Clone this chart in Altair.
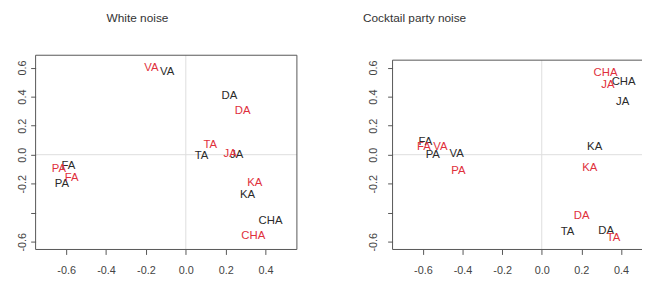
import altair as alt
import pandas as pd

# ---- data ----
titles = ["White noise", "Cocktail party noise"]

# White noise panel
wn_black_lab = ["VA", "DA", "TA", "JA", "KA", "CHA", "FA", "PA"]
wn_black_x = [-0.094, 0.219, 0.079, 0.255, 0.309, 0.425, -0.589, -0.621]
wn_black_y = [0.571, 0.406, -0.007, -0.002, -0.279, -0.460, -0.075, -0.204]
wn_red_lab = ["VA", "DA", "TA", "JA", "KA", "CHA", "PA", "FA"]
wn_red_x = [-0.172, 0.285, 0.123, 0.222, 0.346, 0.338, -0.636, -0.572]
wn_red_y = [0.594, 0.304, 0.066, 0.005, -0.195, -0.562, -0.097, -0.161]

# Cocktail party noise panel
cp_black_lab = ["CHA", "JA", "KA", "TA", "DA", "FA", "PA", "VA"]
cp_black_x = [0.413, 0.408, 0.267, 0.130, 0.325, -0.587, -0.550, -0.429]
cp_black_y = [0.503, 0.360, 0.054, -0.535, -0.528, 0.084, -0.002, 0.005]
cp_red_lab = ["CHA", "JA", "KA", "DA", "TA", "FA", "VA", "PA"]
cp_red_x = [0.322, 0.334, 0.242, 0.201, 0.362, -0.595, -0.512, -0.421]
cp_red_y = [0.560, 0.481, -0.093, -0.426, -0.574, 0.054, 0.054, -0.116]

x_ticks = [-0.6, -0.4, -0.2, 0.0, 0.2, 0.4]
y_ticks = [-0.6, -0.4, -0.2, 0.0, 0.2, 0.4, 0.6]

BLACK = "#2a2a2a"
RED = "#e0303c"
FRAME = "#555555"


def make_df(bl, bx, by, rl, rx, ry):
    rows = []
    for l, x, y in zip(bl, bx, by):
        rows.append({"lab": l, "x": x, "y": y, "grp": "black"})
    for l, x, y in zip(rl, rx, ry):
        rows.append({"lab": l, "x": x, "y": y, "grp": "red"})
    return pd.DataFrame(rows)


label_expr_y = ("abs(datum.value + 0.4) < 0.001 ? '' : "
                "replace(format(datum.value, '.1f'), '\u2212', '-')")
label_expr_x = "replace(format(datum.value, '.1f'), '\u2212', '-')"


def panel(df, title, xdom, ydom, w, h, title_x, title_y, frame_top,
          right_open, ylab_pad):
    xs = alt.Scale(domain=xdom, nice=False, zero=False)
    ys = alt.Scale(domain=ydom, nice=False, zero=False)
    xax = alt.Axis(values=x_ticks, labelExpr=label_expr_x, title=None,
                   grid=False, domain=False, tickColor=FRAME, tickSize=5,
                   labelPadding=10, labelFontSize=11, labelColor="#444444",
                   labelFont="Liberation Sans")
    yax = alt.Axis(values=y_ticks, labelExpr=label_expr_y, title=None,
                   grid=False, domain=False, tickColor=FRAME, tickSize=5,
                   labelAngle=270, labelAlign="center", labelBaseline="bottom",
                   labelPadding=ylab_pad, labelFontSize=11, labelColor="#444444",
                   labelFont="Liberation Sans")
    base = alt.Chart(df)
    zero_v = alt.Chart(pd.DataFrame({"v": [0.0]})).mark_rule(
        color="#dddddd", strokeWidth=1).encode(
        x=alt.X("v:Q", scale=xs, axis=xax), y=alt.value(frame_top), y2=alt.value(h))
    zero_h = alt.Chart(pd.DataFrame({"v": [0.0]})).mark_rule(
        color="#dddddd", strokeWidth=1).encode(y=alt.Y("v:Q", scale=ys, axis=yax))
    txt = base.mark_text(font="Liberation Sans", fontSize=11.5).encode(
        x=alt.X("x:Q", scale=xs, axis=xax),
        y=alt.Y("y:Q", scale=ys, axis=yax),
        text="lab:N",
        color=alt.Color("grp:N", scale=alt.Scale(domain=["black", "red"],
                                                   range=[BLACK, RED]),
                        legend=None),
    )
    ttl = alt.Chart(pd.DataFrame({"t": [title]})).mark_text(
        font="Liberation Sans", fontSize=12, color="#333333",
        align="left", baseline="bottom").encode(
        text="t:N", x=alt.value(title_x), y=alt.value(title_y))
    # frame lines
    fr = alt.Chart(pd.DataFrame({"k": [0]}))
    top = fr.mark_rule(color=FRAME, strokeWidth=1).encode(
        x=alt.value(0), x2=alt.value(w), y=alt.value(frame_top))
    bot = fr.mark_rule(color=FRAME, strokeWidth=1).encode(
        x=alt.value(0), x2=alt.value(w), y=alt.value(h))
    lef = fr.mark_rule(color=FRAME, strokeWidth=1).encode(
        x=alt.value(0), y=alt.value(frame_top), y2=alt.value(h))
    layers = [zero_v, zero_h, txt, ttl, top, bot, lef]
    if not right_open:
        rig = fr.mark_rule(color=FRAME, strokeWidth=1).encode(
            x=alt.value(w), y=alt.value(frame_top), y2=alt.value(h))
        layers.append(rig)
    return alt.layer(*layers).properties(width=w, height=h)


df_wn = make_df(wn_black_lab, wn_black_x, wn_black_y, wn_red_lab, wn_red_x, wn_red_y)
df_cp = make_df(cp_black_lab, cp_black_x, cp_black_y, cp_red_lab, cp_red_x, cp_red_y)

left = panel(df_wn, titles[0], [-0.753, 0.557], [-0.653, 0.685], 265, 197,
             72, -31, 0, False, 3)
right = panel(df_cp, titles[1], [-0.753, 0.506], [-0.653, 0.685], 253, 197,
              -30, -31, 5, True, 9)

chart = alt.hconcat(left, right, spacing=66).properties(
    padding={"left": 8, "top": 2, "right": 0, "bottom": 0}
).configure_view(stroke=None)

chart.save("out.html", embed_options={"renderer": "svg", "actions": False})
